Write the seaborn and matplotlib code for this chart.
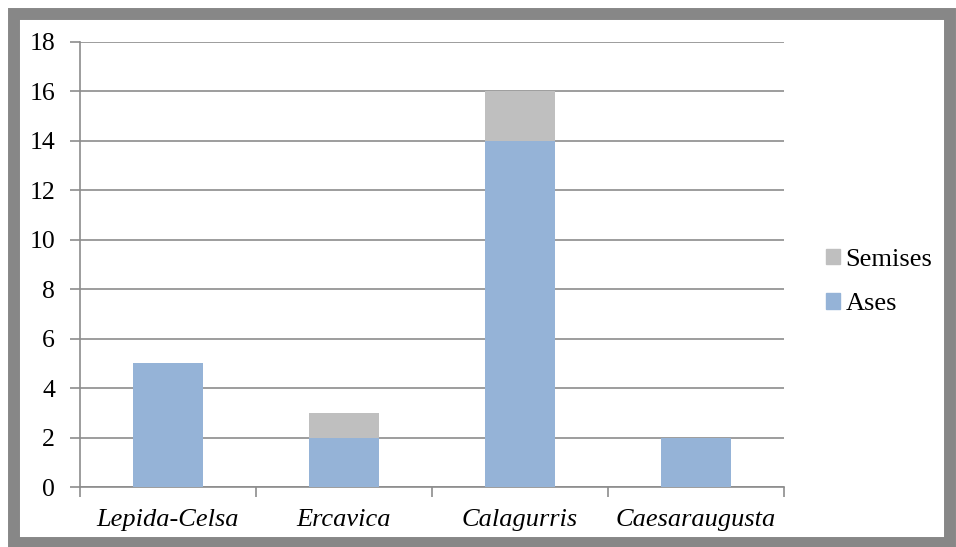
import pandas as pd
import seaborn as sns
import matplotlib.pyplot as plt
from matplotlib.patches import Rectangle, Patch

sns.set_theme(style="white")
plt.rcParams['font.family'] = ['Liberation Serif', 'DejaVu Serif']
plt.rcParams['text.color'] = 'black'
plt.rcParams['xtick.color'] = 'black'
plt.rcParams['ytick.color'] = 'black'

sites = ["Lepida-Celsa", "Ercavica", "Calagurris", "Caesaraugusta"]
ases = [5, 2, 14, 2]
semises = [0, 1, 2, 0]

df = pd.DataFrame({"site": sites, "Ases": ases, "Semises": semises})
df["total"] = df["Ases"] + df["Semises"]

c_ases = "#95b3d7"
c_sem = "#bfbfbf"

fig = plt.figure(figsize=(9.56, 5.47), dpi=100)
ax = fig.add_axes([80 / 956, 1 - 487 / 547, 704 / 956, 445 / 547])

# stacked: totals first (semises on top), then ases over them
sns.barplot(data=df, x="site", y="total", color=c_sem, width=0.4,
            saturation=1, linewidth=0, ax=ax, zorder=3)
sns.barplot(data=df, x="site", y="Ases", color=c_ases, width=0.4,
            saturation=1, linewidth=0, ax=ax, zorder=4)

ax.set_ylim(0, 18)
ax.set_xlim(-0.5, 3.5)
ax.set_yticks(range(0, 19, 2))
ax.yaxis.grid(True, color="#8c8c8c", linewidth=1.2, zorder=0)
ax.set_axisbelow(True)
for s in ["top", "right"]:
    ax.spines[s].set_visible(False)
for s in ["left", "bottom"]:
    ax.spines[s].set_color("#8c8c8c")
    ax.spines[s].set_linewidth(1.2)
ax.set_xlabel("")
ax.set_ylabel("")

ax.set_xticks([-0.5, 0.5, 1.5, 2.5, 3.5], minor=False)
ax.set_xticklabels([])
ax.set_xticks(range(4), minor=True)
ax.set_xticklabels(sites, minor=True, fontsize=19, style="italic")
ax.tick_params(axis="x", which="major", bottom=True, length=7,
               color="#8c8c8c", width=1.2)
ax.tick_params(axis="x", which="minor", bottom=False, pad=12)
ax.tick_params(axis="y", left=True, length=7, color="#8c8c8c", width=1.2,
               labelsize=18.5, pad=11)

handles = [Patch(color=c_sem, label="Semises"), Patch(color=c_ases, label="Ases")]
fig.legend(handles=handles, loc="center left", bbox_to_anchor=(802 / 956, 1 - 282 / 547),
           frameon=False, fontsize=19, handlelength=0.55, handleheight=0.55,
           handletextpad=0.2, labelspacing=0.85)

fig.patches.append(Rectangle((14 / 956, 4 / 547), 936 / 956, 529 / 547,
                             transform=fig.transFigure, fill=False,
                             edgecolor="#878787", linewidth=8.6))

fig.savefig("out.png", dpi=100)
